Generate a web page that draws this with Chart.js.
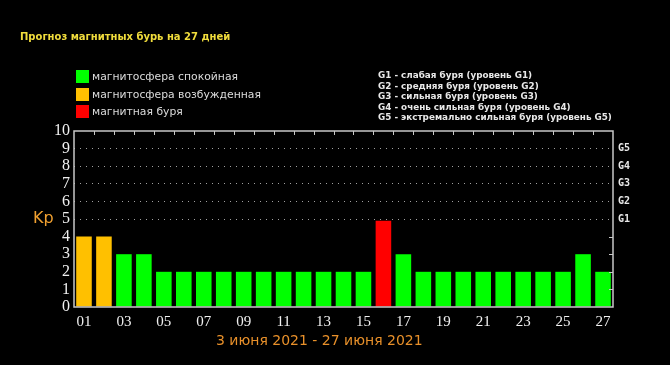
<!DOCTYPE html>
<html>
<head>
<meta charset="utf-8">
<script src="https://cdn.jsdelivr.net/npm/chart.js@4"></script>
<style>
  html, body { margin: 0; padding: 0; background: #000; }
  #wrap { position: relative; width: 670px; height: 365px; overflow: hidden; background: #000; }
  #kpChart { position: absolute; left: 0; top: 0; }
  .txt { position: absolute; white-space: nowrap; font-family: "DejaVu Sans", sans-serif; }
  .title { left: 20px; top: 31px; font-size: 10px; font-weight: bold; color: #f0dc3c; }
  .leg { left: 76px; font-size: 10.8px; color: #dcdcdc; line-height: 13px; }
  .leg i { display: inline-block; width: 13px; height: 13px; vertical-align: top; margin-right: 3px; }
  .glist { left: 378px; top: 70px; font-size: 8.8px; font-weight: bold; color: #e8e8e8; line-height: 10.5px; }
  .kp { left: 33px; top: 208px; font-size: 16px; color: #f0a030; }
  .dates { left: 216px; top: 332px; font-size: 14px; color: #e8902a; }
</style>
</head>
<body>
<div id="wrap">
  <canvas id="kpChart" width="670" height="365"></canvas>
  <div class="txt title">Прогноз магнитных бурь на 27 дней</div>
  <div class="txt leg" style="top:70px"><i style="background:#00ff00"></i>магнитосфера спокойная</div>
  <div class="txt leg" style="top:88px"><i style="background:#ffc000"></i>магнитосфера возбужденная</div>
  <div class="txt leg" style="top:105px"><i style="background:#ff0000"></i>магнитная буря</div>
  <div class="txt glist">G1 - слабая буря (уровень G1)<br>G2 - средняя буря (уровень G2)<br>G3 - сильная буря (уровень G3)<br>G4 - очень сильная буря (уровень G4)<br>G5 - экстремально сильная буря (уровень G5)</div>
  <div class="txt kp">Kp</div>
  <div class="txt dates">3 июня 2021 - 27 июня 2021</div>
</div>
<script>
const days = ["01","02","03","04","05","06","07","08","09","10","11","12","13","14",
  "15","16","17","18","19","20","21","22","23","24","25","26","27"];
const kpValues = [4, 4, 3, 3, 2, 2, 2, 2, 2, 2, 2, 2, 2, 2, 2, 4.9, 3, 2, 2, 2, 2, 2, 2, 2, 2, 3, 2];
const gLabels = ["G1", "G2", "G3", "G4", "G5"];

const QUIET = "#00ff00";
const EXCITED = "#ffc000";
const STORM = "#ff0000";

function barColor(v) {
  if (v >= 4.5) return STORM;
  if (v >= 4) return EXCITED;
  return QUIET;
}

const frameColor = "#c8c8c8";

// frame box plus small inward ticks on top and right
const framePlugin = {
  id: "frame",
  afterDraw(chart) {
    const { ctx, chartArea: a, scales } = chart;
    ctx.save();
    ctx.strokeStyle = frameColor;
    ctx.lineWidth = 1.5;
    ctx.strokeRect(a.left, a.top, a.right - a.left, a.bottom - a.top);
    ctx.lineWidth = 1;
    ctx.beginPath();
    for (let i = 0; i < days.length - 1; i++) {
      const x = Math.round((scales.x.getPixelForValue(i) + scales.x.getPixelForValue(i + 1)) / 2) + 0.5;
      ctx.moveTo(x, a.top);
      ctx.lineTo(x, a.top + 4);
    }
    for (let v = 1; v <= 4; v++) {
      const y = Math.round(scales.y.getPixelForValue(v)) + 0.5;
      ctx.moveTo(a.right, y);
      ctx.lineTo(a.right - 4, y);
    }
    ctx.stroke();
    ctx.restore();
  },
};

const ctx = document.getElementById("kpChart").getContext("2d");
const kpChart = new Chart(ctx, {
  type: "bar",
  data: {
    labels: days,
    datasets: [
      {
        data: kpValues,
        backgroundColor: kpValues.map(barColor),
        borderWidth: 0,
        barPercentage: 0.78,
        categoryPercentage: 1,
      },
    ],
  },
  options: {
    responsive: false,
    animation: false,
    devicePixelRatio: 1,
    layout: { padding: { top: 131, left: 0, right: 0, bottom: 0 } },
    scales: {
      x: {
        offset: true,
        grid: { display: false, drawTicks: false },
        border: { display: false },
        afterFit: (s) => { s.height = 58; },
        ticks: {
          autoSkip: false,
          maxRotation: 0,
          padding: 6,
          color: "#f0f0f0",
          font: { family: "Liberation Serif", size: 15 },
          callback: (val, i) => (i % 2 === 0 ? days[i] : ""),
        },
      },
      y: {
        min: 0,
        max: 10,
        afterFit: (s) => { s.width = 74; },
        border: { display: false, dash: [1, 5] },
        grid: {
          drawTicks: false,
          lineWidth: 1,
          color: (c) => (c.tick && c.tick.value >= 5 && c.tick.value <= 9 ? "#a0a0a0" : "rgba(0,0,0,0)"),
        },
        ticks: {
          stepSize: 1,
          autoSkip: false,
          padding: 4,
          color: "#f0f0f0",
          font: { family: "Liberation Serif", size: 16, lineHeight: 1 },
        },
      },
      y2: {
        position: "right",
        min: 0,
        max: 10,
        afterFit: (s) => { s.width = 57; },
        border: { display: false },
        grid: { display: false, drawTicks: false },
        ticks: {
          stepSize: 1,
          autoSkip: false,
          padding: 5,
          color: "#e8e8e8",
          font: { family: "DejaVu Sans Mono", size: 10, weight: "bold" },
          callback: (v) => (v >= 5 && v <= 9 ? gLabels[v - 5] : ""),
        },
      },
    },
    plugins: {
      legend: { display: false },
      tooltip: { enabled: false },
    },
  },
  plugins: [framePlugin],
});
</script>
</body>
</html>
